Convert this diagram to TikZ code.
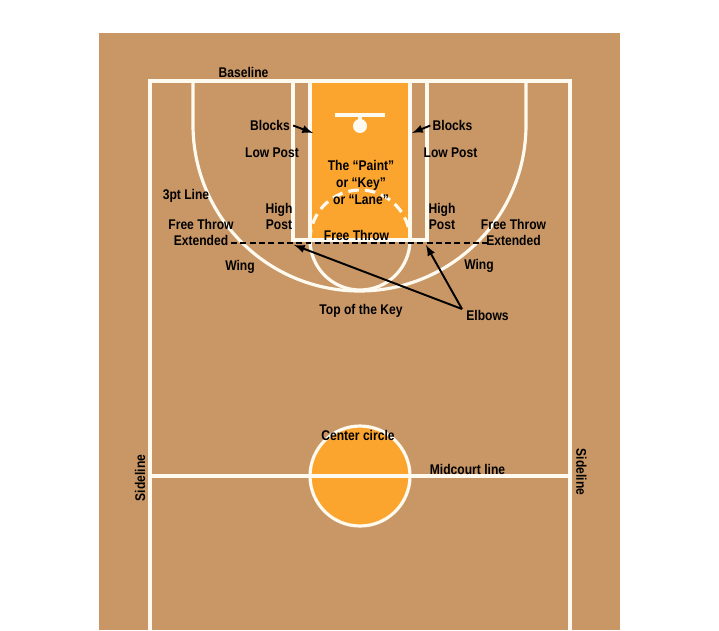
\documentclass[tikz,border=0pt]{standalone}
\usepackage{fontspec}
\setmainfont[FakeStretch=0.86]{Liberation Sans}
\usetikzlibrary{calc, arrows}
\tikzset{>=latex}
\definecolor{mybrown}{RGB}{201, 151, 102}
\definecolor{myorange}{RGB}{251, 165, 46}
\definecolor{mycream}{RGB}{255, 250, 240}
\tikzset{courtline/.style={draw = mycream, line width = 1.8},
lab/.style={font=\fontsize{8}{9.6}\bfseries\selectfont, align = center, inner sep = 0},
pointer/.style={line width = 1.1, ->, >=latex}}
\begin{document}
\begin{tikzpicture}[x = 0.02cm, y = -0.02cm]
\useasboundingbox (0,0) rectangle (719,630);
\fill[mybrown] (99,33) rectangle (620,630);

% key and center circle
\fill[myorange] (310,81) rectangle (410,240);
\fill[myorange] (360,476) circle (50);

% court lines
\draw[courtline] (150,630) -- (150,81) -- (570,81) -- (570,630);
\draw[courtline] (150,476) -- (570,476);
\draw[courtline] (360,476) circle (50);
\draw[courtline] (293,81) rectangle (427,240);
\draw[courtline] (310,81) -- (310,240);
\draw[courtline] (410,81) -- (410,240);
\draw[courtline] (193,81) -- (193,125) arc (180:0:166.5 and 166) -- (526,81);
\draw[courtline] (310,240) arc (180:0:50 and 50);
\draw[courtline, dash pattern=on 6pt off 3.5pt] (310,240) arc (180:360:50 and 50);

% backboard
\draw[courtline] (335,115) -- (385,115);
\draw[courtline] (360,115) -- (360,122);
\fill[mycream] (360,126) circle (7);

\draw[line width = 1, dash pattern=on 3.4pt off 1.9pt] (231,243) -- (487,243);

\node[lab] (baseline) at (243.5,72.5) {Baseline};
\node[lab] (blocksl) at (270,125.5) {Blocks};
\node[lab] (blocksr) at (452.5,125.5) {Blocks};
\node[lab] (lowl) at (272,152.5) {Low Post};
\node[lab] (lowr) at (450.5,152.5) {Low Post};
\node[lab] (paint) at (361,182.5) {The “Paint”\\or “Key”\\or “Lane”};
\node[lab] (three) at (186,195.5) {3pt Line};
\node[lab] (ftl) at (201,232.5) {Free Throw\\Extended};
\node[lab] (ftr) at (513.5,232.5) {Free Throw\\Extended};
\node[lab] (highl) at (279,216.5) {High\\Post};
\node[lab] (highr) at (442,216.5) {High\\Post};
\node[lab] (ft) at (356.5,235.5) {Free Throw};
\node[lab] (wingl) at (240,266.5) {Wing};
\node[lab] (wingr) at (479,265.5) {Wing};
\node[lab] (top) at (361,310.5) {Top of the Key};
\node[lab] (elbows) at (487.5,315.5) {Elbows};
\node[lab] (center) at (358,435.5) {Center circle};
\node[lab] (mid) at (467.5,469.5) {Midcourt line};
\node[lab, rotate = 90] (sidel) at (140,478) {Sideline};
\node[lab, rotate = -90] (sider) at (581.5,472) {Sideline};

\coordinate (blockl) at (313,133);
\coordinate (blockr) at (412,133);
\coordinate (elbowl) at (294,245);
\coordinate (elbowr) at (426,245);
\draw[pointer] (blocksl.east) ++(3,0) -- (blockl);
\draw[pointer] (blocksr.west) ++(-2,0) -- (blockr);
\draw[pointer] (elbows.north west) ++(-4,-1) -- (elbowl);
\draw[pointer] (elbows.north west) ++(-4,-1) -- (elbowr);
\end{tikzpicture}
\end{document}
